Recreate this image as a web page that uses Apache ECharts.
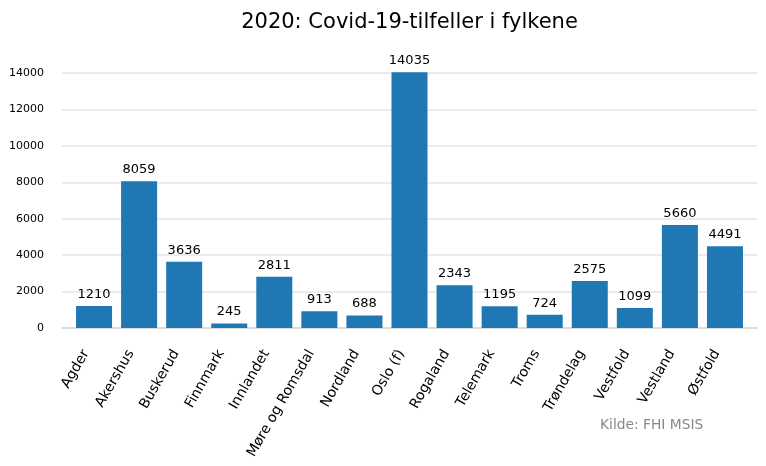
<!DOCTYPE html>
<html><head><meta charset="utf-8">
<script src="https://cdn.jsdelivr.net/npm/echarts@6/dist/echarts.min.js"></script>
<style>html,body{margin:0;padding:0;background:#fff}#c{width:766px;height:466px}</style>
</head><body><div id="c"></div>
<script>
const categories = ['Agder','Akershus','Buskerud','Finnmark','Innlandet','Møre og Romsdal','Nordland','Oslo (f)','Rogaland','Telemark','Troms','Trøndelag','Vestfold','Vestland','Østfold'];
const cases = [1210, 8059, 3636, 245, 2811, 913, 688, 14035, 2343, 1195, 724, 2575, 1099, 5660, 4491];
const yTicks = [0, 2000, 4000, 6000, 8000, 10000, 12000, 14000];
const titleText = '2020: Covid-19-tilfeller i fylkene';
const sourceText = 'Kilde: FHI MSIS';

const font = 'DejaVu Sans';
const yMax = yTicks[yTicks.length-1];
const chart = echarts.init(document.getElementById('c'), null, {renderer:'canvas'});
chart.setOption({
  animation:false,
  backgroundColor:'#fff',
  title:{text:titleText, left:404.5, textAlign:'center', top:7,
    textStyle:{fontFamily:font, fontSize:21, fontWeight:'normal', color:'#000'}},
  grid:[
    {left:62, right:9, top:73, bottom:138},
    {left:71.5, right:18.5, top:73, bottom:138}
  ],
  xAxis:[
    {gridIndex:0, type:'value', min:0, max:1, show:true,
      axisLine:{show:true, onZero:false, lineStyle:{color:'#dcdcdc', width:2}},
      axisTick:{show:false}, axisLabel:{show:false}, splitLine:{show:false}},
    {gridIndex:1, type:'category', data:categories,
      axisLine:{show:false}, axisTick:{show:false},
      axisLabel:{rotate:60, interval:0, margin:23, verticalAlign:'bottom', padding:[0,4,0,0],
        fontFamily:font, fontSize:14, color:'#000'}}
  ],
  yAxis:[
    {gridIndex:0, type:'value', min:0, max:yMax, interval:2000,
      axisLine:{show:false}, axisTick:{show:false},
      axisLabel:{margin:18, fontFamily:font, fontSize:11, color:'#000', formatter: v => String(v)},
      splitLine:{show:true, lineStyle:{color:'#ebebeb', width:2}}},
    {gridIndex:1, type:'value', min:0, max:yMax, show:false, splitLine:{show:false}}
  ],
  series:[{
    type:'bar', xAxisIndex:1, yAxisIndex:1, data:cases, barWidth:36, clip:false,
    itemStyle:{color:'#1f77b4'},
    label:{show:true, position:'top', distance:5, fontFamily:font, fontSize:13, color:'#000'}
  }],
  graphic:[{type:'text', left:600, top:418,
    style:{text:sourceText, fontFamily:font, fontSize:13.8, fill:'#888'}}]
});
</script></body></html>
